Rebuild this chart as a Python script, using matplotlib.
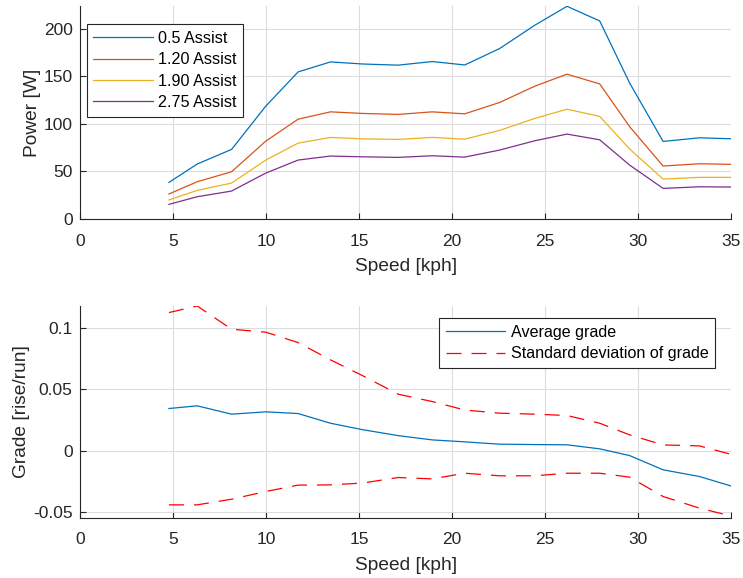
import matplotlib
matplotlib.use("Agg")
import matplotlib.pyplot as plt

# speed points (kph)
speed = [4.77, 6.29, 8.14, 9.98, 11.72, 13.46, 15.20, 17.10, 18.93, 20.68,
         22.56, 24.45, 26.18, 27.94, 29.55, 31.35, 33.31, 34.98]

# power per assist level [W]
p_05 = [38.5, 57.8, 73.2, 118.7, 154.7, 165.2, 163.0, 161.8, 165.6, 162.0,
        179.3, 203.8, 223.7, 208.3, 143.0, 81.6, 85.4, 84.4]
p_120 = [26.3, 39.2, 49.7, 81.9, 105.0, 112.7, 111.0, 110.0, 112.7, 110.6,
         122.6, 139.7, 152.3, 142.1, 97.1, 55.7, 58.1, 57.5]
p_190 = [20.0, 30.1, 37.8, 62.0, 79.8, 85.8, 84.3, 83.7, 85.8, 84.0,
         93.2, 105.8, 115.5, 107.9, 73.6, 42.0, 43.8, 43.8]
p_275 = [15.4, 23.4, 29.4, 48.3, 62.0, 66.2, 65.4, 64.8, 66.5, 65.1,
         72.5, 82.3, 89.3, 83.3, 56.7, 32.2, 33.9, 33.6]
assist_labels = ["0.5 Assist", "1.20 Assist", "1.90 Assist", "2.75 Assist"]

# grade [rise/run]
grade_avg = [0.0343, 0.0365, 0.0297, 0.0316, 0.0302, 0.0223, 0.0170, 0.0122, 0.0087,
             0.0071, 0.0052, 0.0049, 0.0047, 0.0014, -0.0041, -0.0157, -0.0212, -0.0288]
grade_hi = [0.1126, 0.1180, 0.0990, 0.0966, 0.0881, 0.0740, 0.0610, 0.0460, 0.0400,
            0.0331, 0.0305, 0.0297, 0.0286, 0.0223, 0.0128, 0.0046, 0.0038, -0.0030]
grade_lo = [-0.0443, -0.0443, -0.0397, -0.0334, -0.0282, -0.0280, -0.0265, -0.0220, -0.0231,
            -0.0185, -0.0206, -0.0206, -0.0185, -0.0185, -0.0217, -0.0375, -0.0470, -0.0533]

colors = ["#0072BD", "#D95319", "#EDB120", "#7E2F8E"]
dark = "#262626"

plt.rcParams["font.family"] = ["Liberation Sans", "DejaVu Sans"]
plt.rcParams["xtick.direction"] = "in"
plt.rcParams["ytick.direction"] = "in"

fig = plt.figure(figsize=(7.43, 5.78), dpi=100)
ax1 = fig.add_axes([0.108, 0.6211, 0.8758, 0.3685])
ax2 = fig.add_axes([0.108, 0.1043, 0.8758, 0.3668])


def style(ax):
    ax.spines["top"].set_visible(False)
    ax.spines["right"].set_visible(False)
    for s in ["left", "bottom"]:
        ax.spines[s].set_color(dark)
        ax.spines[s].set_linewidth(0.8)
    ax.grid(True, color="#dcdcdc", linewidth=0.8)
    ax.set_axisbelow(True)
    ax.tick_params(colors=dark, labelsize=12.5, length=4, width=0.8)
    ax.tick_params(axis="x", pad=10.5)
    ax.tick_params(axis="y", pad=5.5)
    ax.set_xlim(0, 35)
    ax.set_xticks(range(0, 36, 5))
    ax.set_xlabel("Speed [kph]", fontsize=13.75, color=dark, labelpad=7)


def style_legend(leg):
    leg.get_frame().set_linewidth(0.8)


# --- power vs speed ---
for vals, c, lab in zip([p_05, p_120, p_190, p_275], colors, assist_labels):
    ax1.plot(speed, vals, color=c, linewidth=0.9, label=lab)
style(ax1)
ax1.set_ylim(0, 224)
ax1.set_yticks([0, 50, 100, 150, 200])
ax1.set_ylabel("Power [W]", fontsize=13.75, color=dark, labelpad=2)
leg1 = ax1.legend(loc="upper left", bbox_to_anchor=(0.0098, 0.914), fontsize=11.6,
                  fancybox=False, framealpha=1, edgecolor=dark, handlelength=3.7,
                  handletextpad=0.35, labelspacing=0.4, borderaxespad=0)
style_legend(leg1)

# --- grade vs speed ---
ax2.plot(speed, grade_avg, color="#0072BD", linewidth=0.9, label="Average grade")
ax2.plot(speed, grade_hi, color="red", linewidth=0.9, dashes=(12, 8),
         label="Standard deviation of grade")
ax2.plot(speed, grade_lo, color="red", linewidth=0.9, dashes=(12, 8))
style(ax2)
ax2.set_ylim(-0.0548, 0.1182)
ax2.set_yticks([-0.05, 0, 0.05, 0.1])
ax2.set_yticklabels(["-0.05", "0", "0.05", "0.1"])
ax2.set_ylabel("Grade [rise/run]", fontsize=13.75, color=dark, labelpad=2)
leg2 = ax2.legend(loc="upper right", bbox_to_anchor=(0.9754, 0.9406), fontsize=11.6,
                  fancybox=False, framealpha=1, edgecolor=dark, handlelength=3.7,
                  handletextpad=0.35, labelspacing=0.4, borderaxespad=0)
style_legend(leg2)

fig.savefig("out.png", dpi=100)
